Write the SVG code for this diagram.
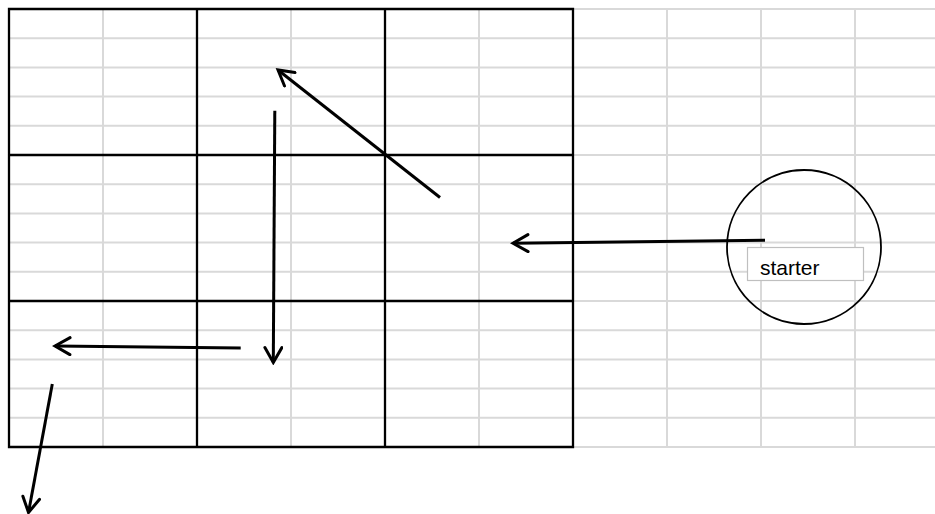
<svg xmlns="http://www.w3.org/2000/svg" width="935" height="514" viewBox="0 0 935 514">
<style>
.g{stroke:#d9d9d9;stroke-width:2;fill:none}
.b{stroke:#000;stroke-width:2.3;fill:none}
.a{stroke:#000;stroke-width:3;fill:none;marker-end:url(#ah)}
.lbl{font-family:"Liberation Sans",Arial,sans-serif;font-size:21px;fill:#000}
</style>
<defs>
<marker id="ah" viewBox="0 0 20 20" refX="17" refY="10" markerWidth="20" markerHeight="20" markerUnits="userSpaceOnUse" orient="auto">
<path d="M2,1.5 L17,10 L2,18.5" fill="none" stroke="#000" stroke-width="3" stroke-linecap="round" stroke-linejoin="miter"/>
</marker>
</defs>
<rect width="935" height="514" fill="#fff"/>
<g id="sheet-grid">
<path class="g" d="M9,38.2H935M9,67.4H935M9,96.6H935M9,125.8H935M9,184.2H935M9,213.4H935M9,242.6H935M9,271.8H935M9,330.2H935M9,359.4H935M9,388.6H935M9,417.8H935M573,9H935M573,155H935M573,301H935M573,447H935"/>
<path class="g" d="M103,9V447M291,9V447M479,9V447M667,9V447M761,9V447M855,9V447"/>
</g>
<g id="board">
<path class="b" d="M9,9H573V447H9Z M9,155H573M9,301H573M197,9V447M385,9V447"/>
</g>
<g id="starter-node">
<circle cx="804" cy="247" r="77" fill="none" stroke="#000" stroke-width="1.8"/>
<rect x="747.5" y="247.5" width="116" height="33" fill="#fff" stroke="#bfbfbf" stroke-width="1.2"/>
<text class="lbl" x="760" y="275">starter</text>
</g>
<g id="connectors">
<line class="a" x1="765" y1="240.3" x2="513" y2="243.3"/>
<line class="a" x1="440" y1="197.5" x2="278" y2="70"/>
<line class="a" x1="274.8" y1="110.7" x2="273.3" y2="362.5"/>
<line class="a" x1="240.7" y1="348" x2="55" y2="346"/>
<line class="a" x1="52.3" y1="384" x2="28.5" y2="512.5"/>
</g>
</svg>
